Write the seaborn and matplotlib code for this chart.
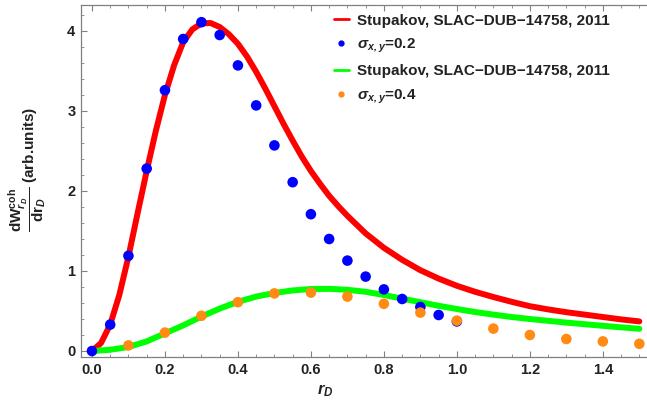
import numpy as np
import pandas as pd
import matplotlib
matplotlib.use("Agg")
import matplotlib.pyplot as plt
from matplotlib.lines import Line2D
from matplotlib.ticker import MultipleLocator
import seaborn as sns

# ---- data ----
red_x = [0, 0.025, 0.05, 0.075, 0.1, 0.125, 0.15, 0.175, 0.2, 0.225, 0.25, 0.275,
         0.3, 0.325, 0.35, 0.375, 0.4, 0.425, 0.45, 0.475, 0.5, 0.525, 0.55, 0.575,
         0.6, 0.625, 0.65, 0.675, 0.7, 0.75, 0.8, 0.85, 0.9, 0.95, 1.0, 1.05, 1.1,
         1.15, 1.2, 1.25, 1.3, 1.35, 1.4, 1.45, 1.5]
red_y = [0, 0.10, 0.33, 0.70, 1.18, 1.72, 2.25, 2.75, 3.20, 3.57, 3.86, 4.02,
         4.095, 4.10, 4.05, 3.96, 3.84, 3.68, 3.49, 3.28, 3.06, 2.84, 2.63, 2.43,
         2.25, 2.09, 1.94, 1.81, 1.69, 1.47, 1.29, 1.14, 1.01, 0.905, 0.815, 0.74,
         0.675, 0.615, 0.56, 0.52, 0.485, 0.455, 0.425, 0.395, 0.37]

green_x = [0, 0.05, 0.1, 0.15, 0.2, 0.25, 0.3, 0.35, 0.4, 0.45, 0.5, 0.55, 0.6,
           0.65, 0.7, 0.75, 0.8, 0.85, 0.9, 0.95, 1.0, 1.05, 1.1, 1.15, 1.2,
           1.25, 1.3, 1.35, 1.4, 1.45, 1.5]
green_y = [0, 0.015, 0.05, 0.12, 0.22, 0.32, 0.43, 0.53, 0.615, 0.68, 0.725, 0.757,
           0.775, 0.777, 0.765, 0.74, 0.70, 0.655, 0.61, 0.565, 0.525, 0.487, 0.455,
           0.425, 0.40, 0.377, 0.355, 0.335, 0.315, 0.296, 0.278]

blue_x = [0, 0.05, 0.1, 0.15, 0.2, 0.25, 0.3, 0.35, 0.4, 0.45, 0.5, 0.55, 0.6,
          0.65, 0.7, 0.75, 0.8, 0.85, 0.9, 0.95, 1.0]
blue_y = [0, 0.33, 1.19, 2.28, 3.26, 3.90, 4.11, 3.95, 3.57, 3.07, 2.57, 2.11,
          1.71, 1.40, 1.13, 0.93, 0.77, 0.65, 0.55, 0.45, 0.37]

orange_x = [0.1, 0.2, 0.3, 0.4, 0.5, 0.6, 0.7, 0.8, 0.9, 1.0, 1.1, 1.2, 1.3, 1.4, 1.5]
orange_y = [0.07, 0.23, 0.44, 0.61, 0.72, 0.73, 0.68, 0.59, 0.48, 0.38, 0.28,
            0.20, 0.15, 0.12, 0.09]

legend_labels = ["Stupakov, SLAC\u2212DUB\u221214758, 2011",
                 r"$\mathbfit{\sigma_{x,y}}$=0.2",
                 "Stupakov, SLAC\u2212DUB\u221214758, 2011",
                 r"$\mathbfit{\sigma_{x,y}}$=0.4"]

RED, BLUE, GREEN, ORANGE = "#FF0000", "#0000FF", "#00FF00", "#FF8A14"

sns.set_theme(style="white")
plt.rcParams["font.family"] = ["Liberation Sans", "DejaVu Sans"]
plt.rcParams["mathtext.fontset"] = "custom"
plt.rcParams["mathtext.rm"] = "Liberation Sans:bold"
plt.rcParams["mathtext.bf"] = "Liberation Sans:bold"
plt.rcParams["mathtext.it"] = "Liberation Sans:bold:italic"
plt.rcParams["mathtext.bfit"] = "Liberation Sans:bold:italic"

red_df = pd.DataFrame({"x": red_x, "y": red_y})
green_df = pd.DataFrame({"x": green_x, "y": green_y})
blue_df = pd.DataFrame({"x": blue_x, "y": blue_y})
orange_df = pd.DataFrame({"x": orange_x, "y": orange_y})

fig = plt.figure(figsize=(6.47, 4.04), dpi=100)
ax = fig.add_axes([81 / 647, 47 / 404, 1 - 81 / 647, 352 / 404])

sns.lineplot(data=red_df, x="x", y="y", color=RED, lw=4.3, ax=ax, zorder=2,
             solid_joinstyle="round")
sns.lineplot(data=green_df, x="x", y="y", color=GREEN, lw=4.3, ax=ax, zorder=2,
             solid_joinstyle="round")
sns.scatterplot(data=blue_df, x="x", y="y", color=BLUE, s=58, edgecolor="none",
                ax=ax, zorder=3)
sns.scatterplot(data=orange_df, x="x", y="y", color=ORANGE, s=58, edgecolor="none",
                ax=ax, zorder=4)

ax.set_xlim(-0.030, 1.521)
ax.set_ylim(-0.075, 4.325)

ax.xaxis.set_major_locator(MultipleLocator(0.2))
ax.xaxis.set_minor_locator(MultipleLocator(0.05))
ax.yaxis.set_major_locator(MultipleLocator(1))
ax.yaxis.set_minor_locator(MultipleLocator(0.2))
ax.xaxis.set_major_formatter(matplotlib.ticker.FormatStrFormatter("%.1f"))

ax.tick_params(which="both", direction="in", color="#808080", top=True, left=True,
               bottom=True, right=False, labeltop=False)
ax.tick_params(which="major", length=4.5, width=0.8, labelsize=10.5, pad=4)
ax.tick_params(which="minor", length=2.5, width=0.6)
for lab in ax.get_xticklabels() + ax.get_yticklabels():
    lab.set_fontweight("bold")
    lab.set_color("#222222")

for side in ["left", "bottom", "top"]:
    ax.spines[side].set_color("#808080")
    ax.spines[side].set_linewidth(0.9)
ax.spines["right"].set_visible(False)

ax.set_xlabel(r"$\mathbfit{r_D}$", fontsize=12, color="#222222")
ax.xaxis.set_label_coords(244 / 566, -0.072)
ax.set_ylabel(r"$\dfrac{\mathbf{dW^{coh}_{\mathbfit{r_D}}}}{\mathbf{dr_{\mathbfit{D}}}}$ (arb.units)",
              fontsize=11, fontweight="bold", color="#222222")
ax.yaxis.set_label_coords(-0.058, 0.534)

handles = [Line2D([], [], color=RED, lw=2),
           Line2D([], [], color=BLUE, marker="o", ls="none", ms=3.5),
           Line2D([], [], color=GREEN, lw=2),
           Line2D([], [], color=ORANGE, marker="o", ls="none", ms=3.5)]
leg = ax.legend(handles, legend_labels, loc="upper left",
                bbox_to_anchor=(239 / 566, 1.0 + 5 / 352), frameon=False,
                handlelength=1.0, handletextpad=0.5, labelspacing=0.6,
                prop={"weight": "bold", "size": 11})
for t in leg.get_texts():
    t.set_color("#222222")

fig.savefig("out.png", dpi=100)
